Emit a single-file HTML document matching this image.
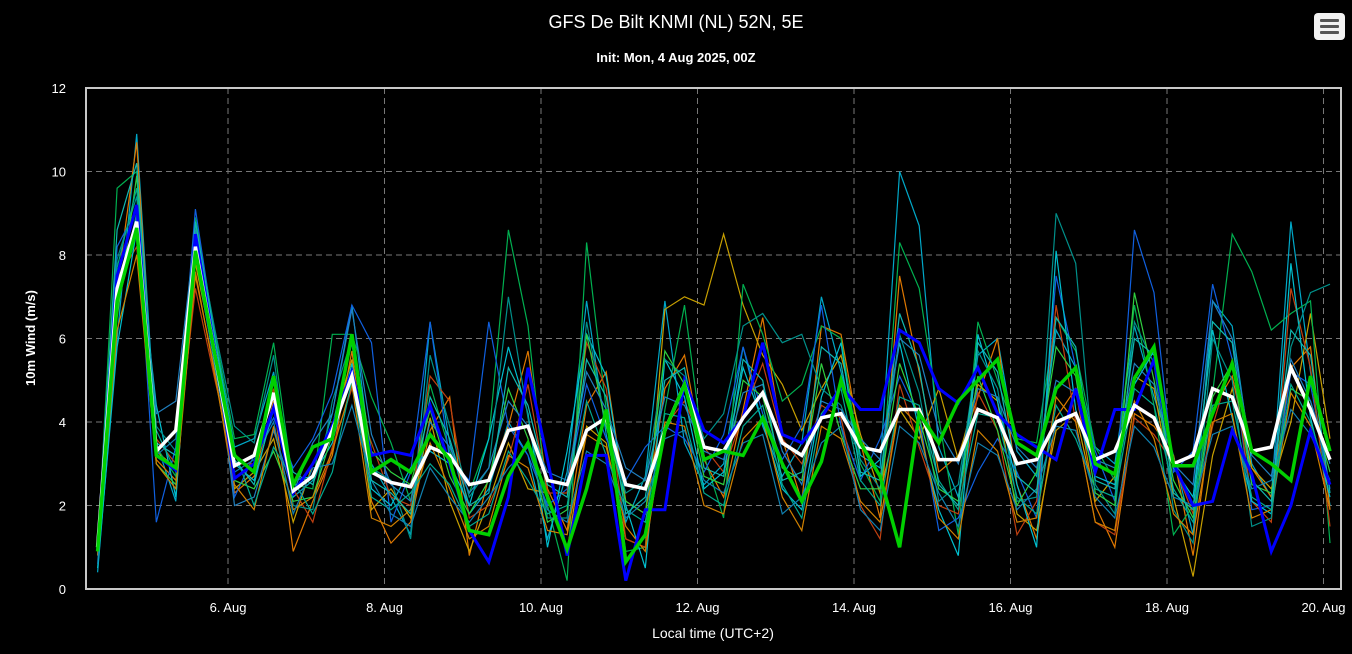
<!DOCTYPE html>
<html><head><meta charset="utf-8"><style>
html,body{margin:0;padding:0;background:#000;width:1352px;height:654px;overflow:hidden}
svg text{font-family:"Liberation Sans",sans-serif}
</style></head><body>
<svg id="chart" width="1352" height="654" xmlns="http://www.w3.org/2000/svg">
<rect width="1352" height="654" fill="#000"/>
<text x="676" y="28" fill="#fff" font-size="18" text-anchor="middle">GFS De Bilt KNMI (NL) 52N, 5E</text>
<text x="676" y="62" fill="#fff" font-size="13" font-weight="bold" text-anchor="middle">Init: Mon, 4 Aug 2025, 00Z</text>
<text transform="translate(35,338) rotate(-90)" fill="#fff" font-size="13" font-weight="bold" text-anchor="middle">10m Wind (m/s)</text>
<text x="713" y="638" fill="#fff" font-size="14" text-anchor="middle">Local time (UTC+2)</text>
<g>
<rect x="1314" y="13" width="31" height="27" rx="4" fill="#f2f2f2"/>
<rect x="1320" y="19" width="19" height="3" rx="1" fill="#555"/>
<rect x="1320" y="25" width="19" height="3" rx="1" fill="#555"/>
<rect x="1320" y="31" width="19" height="3" rx="1" fill="#555"/>
</g>
<g id="grid"></g><g id="members"></g><g id="mains"></g>
<rect x="86" y="88" width="1255" height="501" fill="none" stroke="#c8c8c8" stroke-width="2"/>
<g id="labels"></g>
</svg>
<script>
const yTicks = [0,2,4,6,8,10,12];
const xTickLabels = ["6. Aug","8. Aug","10. Aug","12. Aug","14. Aug","16. Aug","18. Aug","20. Aug"];
const xTickHours = [48,96,144,192,240,288,336,384];
const firstHour = 8, stepHours = 6;
const meanSeries = [1.0,7.2,8.8,3.3,3.8,8.2,5.6,2.95,3.2,4.7,2.35,2.7,3.8,5.1,2.8,2.55,2.45,3.4,3.2,2.5,2.6,3.8,3.9,2.6,2.5,3.8,4.1,2.5,2.4,3.8,4.9,3.4,3.3,4.1,4.7,3.5,3.2,4.1,4.2,3.4,3.3,4.3,4.3,3.1,3.1,4.3,4.1,3.0,3.1,4.0,4.2,3.1,3.3,4.4,4.1,3.0,3.2,4.8,4.6,3.3,3.4,5.3,4.3,3.1];
const controlSeries = [0.9,6.9,8.65,3.2,2.9,8.1,5.6,3.2,2.8,5.1,2.5,3.4,3.6,6.1,2.8,3.1,2.8,3.7,3.1,1.4,1.3,2.7,3.5,2.2,0.95,2.4,4.3,0.65,1.3,3.8,4.9,3.1,3.3,3.2,4.1,3.0,2.1,3.05,5.0,3.5,2.7,1.0,4.2,3.5,4.5,5.0,5.5,3.5,3.2,4.8,5.3,3.0,2.75,5.05,5.8,2.95,2.95,4.2,5.4,3.3,3.0,2.6,5.1,3.3];
const operSeries = [1.0,7.5,9.2,3.2,2.85,8.5,5.7,2.65,3.0,4.35,2.3,3.0,3.9,5.2,3.2,3.3,3.2,4.4,3.0,1.4,0.65,2.2,5.3,3.1,0.8,3.2,3.2,0.2,1.9,1.9,5.0,3.8,3.5,4.1,5.9,3.7,3.5,4.1,4.85,4.3,4.3,6.2,5.9,4.8,4.45,5.3,4.2,3.7,3.4,3.1,4.8,2.8,4.3,4.3,5.5,3.0,2.0,2.1,3.8,2.75,0.9,2.0,3.8,2.5];
const m1 = [0.4,6,10.9,3.5,2.1,8.8,6,3.4,3.6,5.2,2.2,2.6,4.2,6.8,3.0,2.2,1.3,6.4,3.5,1.8,2.4,4.0,3.2,1.2,2.8,6.9,3.7,1.6,2.7,6.9,3.5,2.5,3.0,5.8,3.9,2.7,3.5,7.0,5.2,3.2,2.9,10.0,8.7,3.4,2.2,5.6,6.0,3.3,2.7,6.2,5.3,3.4,3.0,6.3,4.6,3.2,1.3,6.9,6.3,3.0,2.2,8.8,5.2,2.0];
const m2 = [1.0,7.2,10.7,3.1,2.6,7.5,5.2,2.3,2.7,4.5,0.9,2.1,3.2,5.7,2.1,1.1,1.6,3.8,4.6,0.8,2.7,3.9,5.7,2.4,1.4,4.4,5.2,2.1,1.8,4.8,5.6,3.1,2.2,4.3,6.5,3.6,2.1,6.3,6.1,3.5,1.7,7.5,5.2,2.8,3.2,4.6,6.0,2.5,1.2,4.1,4.8,2.0,1.0,4.2,3.9,3.2,0.8,4.3,5.1,2.9,2.2,5.3,5.8,1.9];
const m3 = [1.1,6.8,8.6,3.3,2.9,7.8,5.5,2.4,2.8,3.6,1.6,3.0,3.9,5.5,1.9,2.4,1.7,4.1,2.1,0.9,2.1,3.5,2.4,2.3,0.9,3.9,3.5,1.2,1.0,6.7,7.0,6.8,8.5,6.8,5.6,4.9,3.8,4.8,5.6,3.7,2.3,4.3,3.6,4.8,3.1,4.9,4.5,1.8,1.4,3.8,4.2,2.1,2.7,5.1,4.8,2.2,0.3,3.2,4.8,2.9,2.4,4.0,6.6,3.6];
const m4 = [0.9,9.6,10.0,3.4,2.7,8.9,6.1,3.6,3.7,5.9,2.5,2.4,6.1,6.1,4.6,3.5,2.1,4.9,3.3,2.3,3.6,8.6,6.3,2.0,0.2,8.3,4.3,0.9,1.0,4.3,6.8,3.2,1.7,7.3,6.1,4.5,4.9,6.3,6.0,3.0,2.1,8.3,7.2,4.1,1.3,6.4,5.0,3.6,3.5,6.5,5.7,3.4,2.6,6.8,4.4,1.3,2.0,4.7,8.5,7.6,6.2,6.6,6.9,1.1];
const m5 = [1.2,8.2,9.1,1.6,3.4,9.1,6.0,2.2,3.2,4.1,2.9,3.6,4.7,6.8,5.9,1.6,2.8,6.4,3.1,2.6,6.4,3.9,3.2,2.0,2.4,4.9,3.6,2.6,3.4,3.9,3.6,2.8,3.7,5.8,4.2,3.1,3.9,6.8,3.9,2.6,3.6,5.1,4.1,1.4,1.7,2.8,3.6,2.8,1.7,7.5,5.3,3.3,2.1,8.6,7.1,2.8,3.3,7.3,5.5,1.9,2.0,5.2,4.9,2.4];
const m6 = [1.0,7.4,8.2,3.6,3.0,7.2,5.0,3.0,3.0,4.8,2.4,1.6,3.4,4.8,3.5,2.2,2.0,5.1,4.5,1.7,2.0,3.1,4.9,2.3,2.3,5.9,4.8,1.2,1.0,3.9,4.5,3.4,2.8,4.2,5.4,3.6,3.0,4.4,4.1,2.0,1.2,4.9,3.4,2.0,1.8,4.7,3.8,1.3,2.1,6.8,4.0,1.6,1.3,4.1,3.7,3.0,1.8,3.9,5.5,2.1,1.6,7.2,5.3,1.5];
const m7 = [0.5,5.8,8.6,4.4,2.2,8.3,5.6,3.0,2.6,4.3,2.6,2.7,3.5,5.4,2.4,2.0,2.9,3.3,3.0,2.0,3.6,5.8,4.2,1.0,3.3,6.1,5.1,2.0,0.5,5.5,4.6,2.4,2.8,5.3,4.0,2.4,1.9,4.6,5.9,2.7,3.1,5.9,3.8,1.9,0.8,6.1,4.5,2.5,1.0,8.1,4.3,2.7,2.5,4.9,5.7,2.9,2.2,6.2,4.1,2.1,1.8,7.8,4.1,2.2];
const m8 = [0.8,7.9,9.4,3.9,3.3,8.7,6.2,3.9,3.5,5.6,2.0,1.9,4.5,6.0,2.9,2.6,1.2,5.6,3.9,2.2,2.9,7.0,4.1,1.7,1.7,6.4,3.9,2.3,2.6,5.5,5.1,3.6,4.2,6.3,6.6,5.9,6.1,4.8,4.4,3.1,2.4,6.1,4.7,2.1,2.5,5.7,4.8,2.1,2.2,9.0,7.8,2.5,1.8,6.4,5.4,1.9,1.1,6.0,5.0,1.5,1.7,5.8,7.1,7.3];
const m9 = [1.0,6.5,9.9,3.0,2.5,8.0,5.4,2.6,2.4,3.3,2.1,2.2,3.7,6.1,3.3,2.8,2.5,4.3,2.7,1.8,2.6,4.8,3.6,1.6,1.9,6.1,3.9,2.1,1.8,5.7,4.9,2.7,2.5,5.0,4.6,2.9,2.6,5.4,3.7,2.4,2.4,5.4,4.1,2.4,2.1,5.1,3.8,2.0,2.8,5.8,5.1,2.3,2.0,7.1,5.0,2.6,1.7,4.6,5.4,2.5,2.3,4.8,4.5,2.8];
const m10 = [1.1,7.0,8.9,4.2,4.5,8.6,5.9,2.0,2.2,3.8,2.3,3.5,4.2,6.7,3.7,2.5,2.1,4.0,3.4,2.3,2.9,4.5,3.9,2.8,2.6,5.2,4.3,2.9,2.6,4.6,4.4,3.3,3.1,4.7,4.9,3.3,2.5,4.5,4.3,3.6,3.1,6.0,5.6,3.8,3.0,4.8,4.6,3.4,2.9,5.0,4.7,3.1,2.9,5.4,4.9,3.0,2.5,6.9,6.0,3.2,2.7,5.5,4.5,3.0];
const m11 = [0.8,6.2,8.0,3.0,2.4,7.6,5.1,2.5,1.9,3.9,1.9,2.2,3.3,4.9,1.7,1.5,1.9,3.5,2.4,1.2,1.5,3.2,2.9,1.4,1.3,3.7,3.4,1.5,0.9,4.0,3.9,2.0,1.8,3.6,4.1,2.2,1.4,3.9,3.6,2.1,1.6,4.4,3.9,1.7,1.2,3.8,3.3,1.6,1.7,4.6,4.0,1.6,1.4,4.5,3.6,1.8,1.3,4.0,4.2,1.7,1.9,4.7,3.9,1.9];
const m12 = [1.2,7.7,9.6,3.8,2.8,8.4,5.8,3.3,2.0,3.4,2.6,1.8,2.8,5.0,2.2,1.9,2.3,3.0,2.5,1.5,1.8,3.3,2.6,1.8,2.0,4.5,3.2,1.9,1.6,4.2,4.1,2.3,2.0,3.9,4.4,2.5,1.7,4.2,4.8,2.6,2.0,4.6,4.4,2.6,1.9,4.2,4.1,2.2,1.8,4.4,3.6,2.4,2.2,4.8,4.4,2.4,1.6,4.4,4.5,2.2,1.9,4.9,4.0,2.5];
const m13 = [0.6,6.9,9.0,3.2,3.6,8.0,5.3,2.8,3.1,4.0,1.8,2.9,3.0,4.4,2.6,1.8,1.5,2.9,2.2,1.6,2.2,2.9,3.4,1.9,1.6,3.3,3.0,1.7,2.1,3.6,3.8,2.6,2.3,3.5,3.7,1.8,2.2,3.5,3.9,1.9,1.4,3.9,3.5,2.3,1.5,3.5,3.2,1.9,2.4,3.9,3.8,2.2,1.7,3.9,3.4,2.2,2.0,3.7,3.9,2.4,2.6,4.3,3.7,2.6];
const m14 = [1.0,8.6,10.2,3.5,3.2,8.8,6.0,3.1,2.5,4.4,2.8,2.5,3.9,5.9,2.6,2.3,1.8,4.6,3.6,2.0,2.3,5.3,4.4,2.5,2.2,5.5,4.6,1.8,2.2,5.0,5.3,2.9,2.7,5.5,5.0,2.6,2.8,5.8,5.4,2.8,2.6,6.6,5.3,2.5,2.0,5.9,5.2,2.7,2.3,6.5,5.8,2.6,2.4,6.0,5.6,2.3,1.9,6.4,5.9,2.6,2.1,6.2,5.6,2.3];
const members = [m1,m2,m3,m4,m5,m6,m7,m8,m9,m10,m11,m12,m13,m14];
const memberColors = ["#00a8c8","#e07800","#c8a000","#00b050","#1060e0","#c04010","#00c0d0","#00908a","#30d040","#2080c0","#d08000","#00a890","#1080b0","#10b8b0"];

const NS = "http://www.w3.org/2000/svg";
const L = 86, R = 1341, T = 88, B = 589;
function yScale(v){ return B - (v/12)*(B-T); }
function xScale(h){ return 228 + (h-48)*(156.5/48); }
function ptsFor(arr){ return arr.map((v,i)=>xScale(firstHour+i*stepHours).toFixed(1)+","+yScale(v).toFixed(1)).join(" "); }
function mk(tag, attrs){ const e=document.createElementNS(NS,tag); for(const k in attrs) e.setAttribute(k,attrs[k]); return e; }

const grid = document.getElementById("grid"), labels = document.getElementById("labels");
yTicks.forEach(v=>{
  if(v>0 && v<12){
    const ln = mk("line",{x1:L,x2:R,y1:yScale(v),y2:yScale(v),stroke:"#777","stroke-dasharray":"6,4","stroke-width":1});
    
    
    grid.appendChild(ln);
  }
  const t = mk("text",{x:66,y:yScale(v)+5,fill:"#fff","font-size":13,"text-anchor":"end"});
  t.textContent = v;
  
  
  labels.appendChild(t);
});
xTickHours.forEach((h,i)=>{
  const x = xScale(h);
  const ln = mk("line",{x1:x,x2:x,y1:T,y2:B,stroke:"#777","stroke-dasharray":"6,4","stroke-width":1});
  
  
  grid.appendChild(ln);
  const t = mk("text",{x:x,y:612,fill:"#fff","font-size":13,"text-anchor":"middle"});
  t.textContent = xTickLabels[i];
  
  
  labels.appendChild(t);
});
const mg = document.getElementById("members");
members.forEach((arr,i)=>{
  const p = mk("polyline",{points:ptsFor(arr),fill:"none",stroke:memberColors[i],"stroke-width":1.2,"stroke-linejoin":"miter"});
  
  
  mg.appendChild(p);
});
const mains = document.getElementById("mains");
const pb = mk("polyline",{points:ptsFor(operSeries),fill:"none",stroke:"#0000ff","stroke-width":3});


mains.appendChild(pb);
const pw = mk("polyline",{points:ptsFor(meanSeries),fill:"none",stroke:"#ffffff","stroke-width":3.5});


mains.appendChild(pw);
const pg = mk("polyline",{points:ptsFor(controlSeries),fill:"none",stroke:"#00d000","stroke-width":3.5});


mains.appendChild(pg);
</script>
</body></html>
